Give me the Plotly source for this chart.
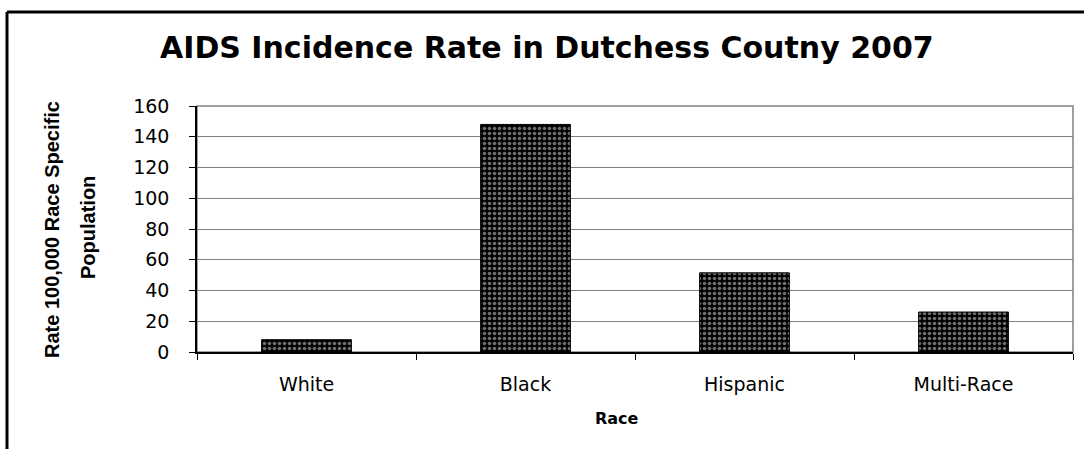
import plotly.graph_objects as go

categories = ["White", "Black", "Hispanic", "Multi-Race"]
rates = [8, 148, 51.5, 26]
y_ticks = [0, 20, 40, 60, 80, 100, 120, 140, 160]

W, H = 1084, 449
L, R, T, B = 197, 11, 106, 97
pw, ph = W - L - R, H - T - B

def px(x):
    return (x - L) / pw

def py(y):
    return (H - B - y) / ph

font = "DejaVu Sans, Verdana, sans-serif"
font_ax = "Liberation Sans, Arial, sans-serif"

fig = go.Figure()
fig.add_trace(go.Bar(
    x=categories, y=rates,
    marker=dict(
        color="black",
        line=dict(color="black", width=1),
        pattern=dict(shape=".", size=5, solidity=0.4, fgcolor="#dedede", fillmode="overlay"),
    ),
    width=0.41,
    hoverinfo="skip",
))

fig.update_layout(
    width=W, height=H,
    margin=dict(l=L, r=R, t=T, b=B),
    paper_bgcolor="white", plot_bgcolor="white",
    showlegend=False,
    font=dict(family=font, color="black"),
    shapes=[
        dict(type="rect", xref="paper", yref="paper", x0=0, x1=1, y0=0, y1=1,
             line=dict(color="#808080", width=1.5), layer="below"),
        dict(type="line", xref="paper", yref="paper", x0=px(7), x1=px(1095), y0=py(12), y1=py(12),
             line=dict(color="black", width=3)),
        dict(type="line", xref="paper", yref="paper", x0=px(7), x1=px(7), y0=py(12), y1=py(460),
             line=dict(color="black", width=3)),
    ],
    annotations=[
        dict(text="<b>AIDS Incidence Rate in Dutchess Coutny 2007</b>", xref="paper", yref="paper",
             x=px(547), y=py(47), showarrow=False, xanchor="center", yanchor="middle",
             font=dict(size=30, family=font, color="black")),
        dict(text="<b>Rate 100,000 Race Specific</b>", xref="paper", yref="paper",
             x=px(52), y=py(230), showarrow=False, textangle=-90, xanchor="center", yanchor="middle",
             font=dict(size=20, family=font_ax, color="black")),
        dict(text="<b>Population</b>", xref="paper", yref="paper",
             x=px(88), y=py(228), showarrow=False, textangle=-90, xanchor="center", yanchor="middle",
             font=dict(size=20, family=font_ax, color="black")),
        dict(text="<b>Race</b>", xref="paper", yref="paper",
             x=px(617), y=py(418), showarrow=False, xanchor="center", yanchor="middle",
             font=dict(size=16, family=font, color="black")),
    ],
)

fig.update_xaxes(
    showline=True, linecolor="black", linewidth=1.5,
    ticks="outside", tickson="boundaries", ticklen=6, tickcolor="black",
    tickfont=dict(size=19, family=font, color="black"),
    ticklabelstandoff=14,
    showgrid=False,
)
fig.update_yaxes(
    range=[0, 160], tickvals=y_ticks,
    showline=True, linecolor="black", linewidth=1.5,
    ticks="outside", ticklen=6, tickcolor="black",
    tickfont=dict(size=19, family=font, color="black"),
    ticklabelstandoff=16,
    showgrid=True, gridcolor="#808080", gridwidth=1,
    zeroline=False,
)

fig.write_html("out.html", config={"displayModeBar": False},
               post_script="document.body.style.margin='0';")
